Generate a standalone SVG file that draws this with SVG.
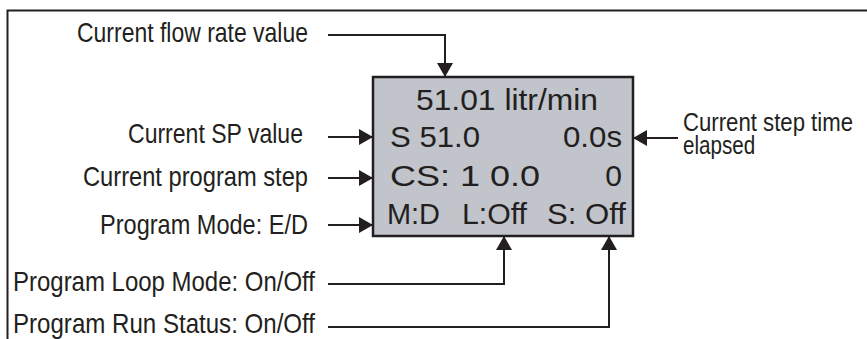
<svg xmlns="http://www.w3.org/2000/svg" width="867" height="339" viewBox="0 0 867 339">
<style>
.lbl{font-family:"Liberation Sans",Arial,sans-serif;font-size:27.5px;fill:#231f20}
.disp{font-family:"Liberation Sans",Arial,sans-serif;font-size:30px;fill:#231f20}
.ln{fill:none;stroke:#231f20;stroke-width:2}
</style>
<defs>
<marker id="ah" markerUnits="userSpaceOnUse" markerWidth="16" markerHeight="18" refX="14" refY="8" orient="auto">
<path d="M0,0 L14,8 L0,16 Z" fill="#231f20"/>
</marker>
</defs>
<path d="M7.5,339 V10.5 H867" fill="none" stroke="#231f20" stroke-width="2"/>
<g id="display">
<rect x="373" y="77" width="260" height="159" fill="#c1c4ca" stroke="#231f20" stroke-width="2.5"/>
<text class="disp" x="416" y="110" textLength="182" lengthAdjust="spacingAndGlyphs">51.01 litr/min</text>
<text class="disp" x="390" y="147" textLength="90" lengthAdjust="spacingAndGlyphs">S 51.0</text>
<text class="disp" x="563" y="147" textLength="59" lengthAdjust="spacingAndGlyphs">0.0s</text>
<text class="disp" x="390" y="186" textLength="150" lengthAdjust="spacingAndGlyphs">CS:  1  0.0</text>
<text class="disp" x="622" y="186" text-anchor="end">0</text>
<text class="disp" x="387" y="224" textLength="53" lengthAdjust="spacingAndGlyphs">M:D</text>
<text class="disp" x="462" y="224" textLength="65" lengthAdjust="spacingAndGlyphs">L:Off</text>
<text class="disp" x="547" y="224" textLength="79" lengthAdjust="spacingAndGlyphs">S: Off</text>
</g>
<g id="lbl-flow"><text class="lbl" x="77" y="42" textLength="231" lengthAdjust="spacingAndGlyphs">Current flow rate value</text></g>
<g id="lbl-sp"><text class="lbl" x="128" y="143" textLength="175" lengthAdjust="spacingAndGlyphs">Current SP value</text></g>
<g id="lbl-step"><text class="lbl" x="83" y="186" textLength="225" lengthAdjust="spacingAndGlyphs">Current program step</text></g>
<g id="lbl-mode"><text class="lbl" x="100" y="234" textLength="208" lengthAdjust="spacingAndGlyphs">Program Mode: E/D</text></g>
<g id="lbl-loop"><text class="lbl" x="13" y="291" textLength="302" lengthAdjust="spacingAndGlyphs">Program Loop Mode: On/Off</text></g>
<g id="lbl-run"><text class="lbl" x="13" y="333" textLength="302" lengthAdjust="spacingAndGlyphs">Program Run Status: On/Off</text></g>
<g id="lbl-time" transform="translate(683,0) scale(0.85,1)"><text class="lbl" x="0" y="131" style="font-size:25.5px" textLength="200" lengthAdjust="spacingAndGlyphs">Current step time</text><text class="lbl" x="0" y="154" style="font-size:25.5px" textLength="85" lengthAdjust="spacingAndGlyphs">elapsed</text></g>
<g id="connectors">
<path class="ln" d="M328,35 H445 V77" marker-end="url(#ah)"/>
<path class="ln" d="M328,137 H373" marker-end="url(#ah)"/>
<path class="ln" d="M328,178 H373" marker-end="url(#ah)"/>
<path class="ln" d="M328,225 H373" marker-end="url(#ah)"/>
<path class="ln" d="M328,284 H504 V236" marker-end="url(#ah)"/>
<path class="ln" d="M328,327 H609 V236" marker-end="url(#ah)"/>
<path class="ln" d="M678,138 H633" marker-end="url(#ah)"/>
</g>
</svg>
